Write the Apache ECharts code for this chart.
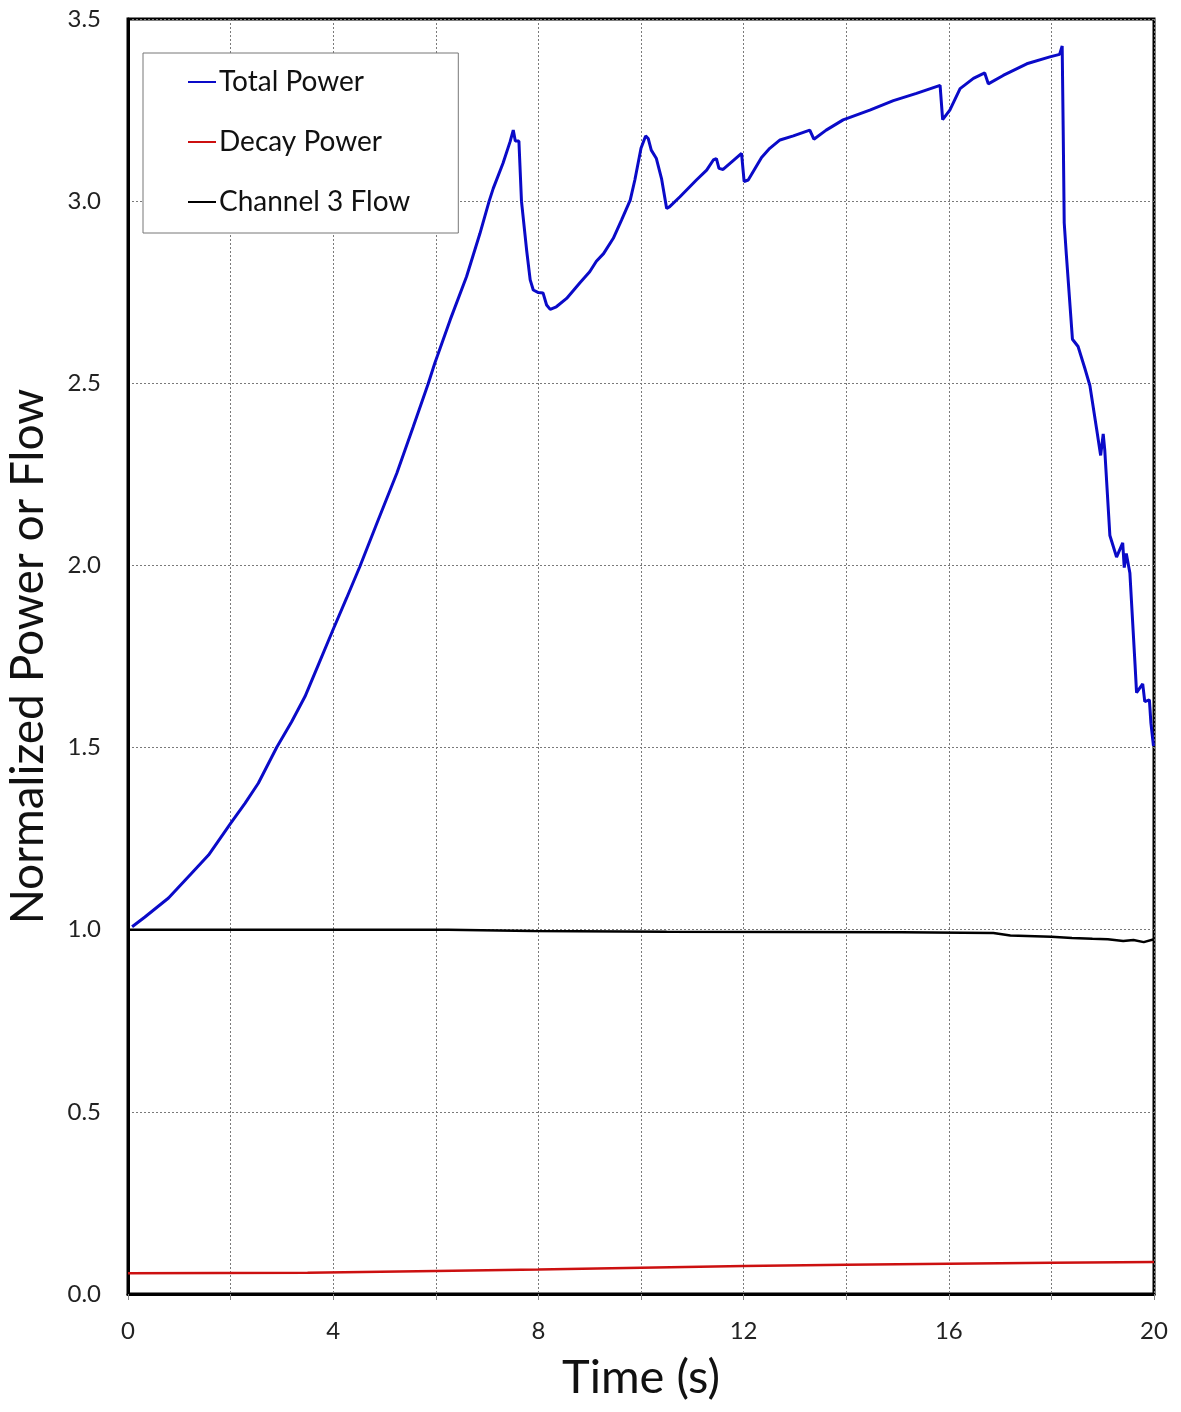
<!DOCTYPE html>
<html>
<head>
<meta charset="utf-8">
<script src="https://cdn.jsdelivr.net/npm/echarts@6/dist/echarts.min.js"></script>
<style>
  html, body { margin: 0; padding: 0; background: #fff; }
  #chart { width: 1181px; height: 1412px; }
</style>
</head>
<body>
<div id="chart"></div>
<script>
// time (s) and normalized values
var tTotal = [0.08, 0.33, 0.79, 1.24, 1.57, 2.0, 2.28, 2.54, 2.9, 3.19, 3.45, 3.71, 3.98, 4.26, 4.52, 4.85, 5.24, 5.56, 5.85, 5.98, 6.28, 6.6, 6.86, 7.04, 7.12, 7.31, 7.45, 7.51,
    7.55, 7.62, 7.67, 7.77, 7.84, 7.9, 8.0, 8.09, 8.16, 8.23, 8.35, 8.55, 8.81, 9.0, 9.13, 9.27, 9.46, 9.62, 9.79, 9.88, 10.0, 10.09, 10.14, 10.2, 10.3, 10.4, 10.5,
    10.56, 10.76, 11.08, 11.28, 11.41, 11.47, 11.52, 11.6, 11.96, 12.01, 12.09, 12.35, 12.51, 12.71, 12.97, 13.29, 13.37, 13.61, 13.94, 14.46,
    14.92, 15.37, 15.83, 15.88, 16.02, 16.22, 16.48, 16.7, 16.77, 17.06, 17.52, 17.97, 18.16, 18.21, 18.23, 18.25, 18.29,
    18.41, 18.52, 18.65, 18.75, 18.88, 18.96, 19.01, 19.04, 19.14, 19.27, 19.39, 19.42, 19.46, 19.53, 19.63, 19.66, 19.78,
    19.82, 19.91, 19.94, 19.99];
var vTotal = [1.008, 1.035, 1.087, 1.155, 1.205, 1.292, 1.347, 1.402, 1.501, 1.571, 1.64, 1.727, 1.818, 1.91, 1.997, 2.115, 2.253, 2.381, 2.498, 2.555, 2.674, 2.793, 2.911, 3.0, 3.035, 3.104, 3.164, 3.195,
    3.165, 3.165, 3.0, 2.866, 2.784, 2.756, 2.749, 2.748, 2.715, 2.703, 2.71, 2.733, 2.776, 2.806, 2.835, 2.856, 2.898, 2.948, 3.003, 3.058, 3.145, 3.179, 3.172, 3.14, 3.117, 3.062, 2.98,
    2.985, 3.012, 3.058, 3.085, 3.113, 3.117, 3.09, 3.087, 3.131, 3.054, 3.058, 3.12, 3.145, 3.168, 3.179, 3.195, 3.17, 3.195, 3.223, 3.25,
    3.276, 3.296, 3.318, 3.224, 3.25, 3.309, 3.337, 3.352, 3.322, 3.345, 3.377, 3.396, 3.403, 3.426, 3.195, 2.94, 2.856,
    2.621, 2.601, 2.542, 2.494, 2.376, 2.302, 2.361, 2.317, 2.082, 2.023, 2.062, 1.994, 2.033, 1.979, 1.729, 1.651, 1.675,
    1.626, 1.631, 1.567, 1.504];

var tDecay = [0, 3.5, 6, 8, 10, 12, 14, 16, 18, 20];
var vDecay = [0.057, 0.058, 0.063, 0.067, 0.072, 0.077, 0.080, 0.083, 0.086, 0.088];

var tFlow = [0, 6.24, 6.25, 7.88, 7.9, 10.5, 10.52, 15.08, 15.1, 16.87, 17.2, 18.0, 18.4, 18.8, 19.1, 19.4, 19.6, 19.8, 20];
var vFlow = [1.0, 1.0, 0.9965, 0.9965, 0.9945, 0.9945, 0.9927, 0.9927, 0.991, 0.991, 0.984, 0.981, 0.977, 0.975, 0.974, 0.969, 0.972, 0.966, 0.974];

var xTicks = [0, 4, 8, 12, 16, 20];

function pairs(t, v) {
    var res = [];
    for (var i = 0; i < t.length; i++) {
        res.push([t[i], v[i]]);
    }
    return res;
}

var font = 'Lato, "Open Sans", sans-serif';
var gridLine = { show: true, lineStyle: { color: '#7a7a7a', type: [2, 2], width: 1 } };

var myChart = echarts.init(document.getElementById('chart'));
var option = {
    backgroundColor: '#fff',
    animation: false,
    grid: {
        left: 128, right: 27, top: 19, bottom: 118,
        outerBoundsMode: 'none',
        containLabel: false,
        show: true, borderColor: '#000', borderWidth: 3
    },
    legend: {
        orient: 'vertical',
        left: 143, top: 53,
        backgroundColor: '#fff',
        borderColor: '#777', borderWidth: 1,
        padding: [14, 48, 16, 45],
        itemGap: 30,
        itemWidth: 28, itemHeight: 2,
        icon: 'rect',
        textStyle: { fontFamily: font, fontSize: 28, color: '#111', lineHeight: 30, padding: [0, 0, 0, -2] },
        data: ['Total Power', 'Decay Power', 'Channel 3 Flow']
    },
    xAxis: {
        type: 'value', min: 0, max: 20, interval: 2,
        name: 'Time (s)', nameLocation: 'middle', nameGap: 60,
        nameTextStyle: { fontFamily: font, fontSize: 47, color: '#111' },
        axisLine: { show: true, lineStyle: { color: '#000', width: 3 } },
        axisTick: { show: true, length: 6, lineStyle: { color: '#888' } },
        axisLabel: {
            fontFamily: font, fontSize: 24, color: '#222', margin: 25,
            formatter: function(v) { return xTicks.indexOf(v) >= 0 ? String(v) : ''; }
        },
        splitLine: gridLine
    },
    yAxis: {
        type: 'value', min: 0, max: 3.5, interval: 0.5,
        name: 'Normalized Power or Flow', nameLocation: 'middle', nameGap: 77,
        nameTextStyle: { fontFamily: font, fontSize: 46, color: '#111' },
        axisLine: { show: true, lineStyle: { color: '#000', width: 3 } },
        axisTick: { show: false },
        axisLabel: {
            fontFamily: font, fontSize: 24, color: '#222', margin: 27,
            formatter: function(v) { return v.toFixed(1); }
        },
        splitLine: gridLine
    },
    series: [{
            name: 'Total Power',
            type: 'line',
            showSymbol: false,
            color: '#0a0ac8',
            lineStyle: { width: 3, color: '#0a0ac8' },
            data: pairs(tTotal, vTotal)
        },
        {
            name: 'Decay Power',
            type: 'line',
            showSymbol: false,
            color: '#cc1010',
            lineStyle: { width: 2.5, color: '#cc1010' },
            data: pairs(tDecay, vDecay)
        },
        {
            name: 'Channel 3 Flow',
            type: 'line',
            showSymbol: false,
            color: '#000',
            lineStyle: { width: 2.5, color: '#000' },
            data: pairs(tFlow, vFlow)
        }
    ]
};
myChart.setOption(option);
</script>
</body>
</html>
